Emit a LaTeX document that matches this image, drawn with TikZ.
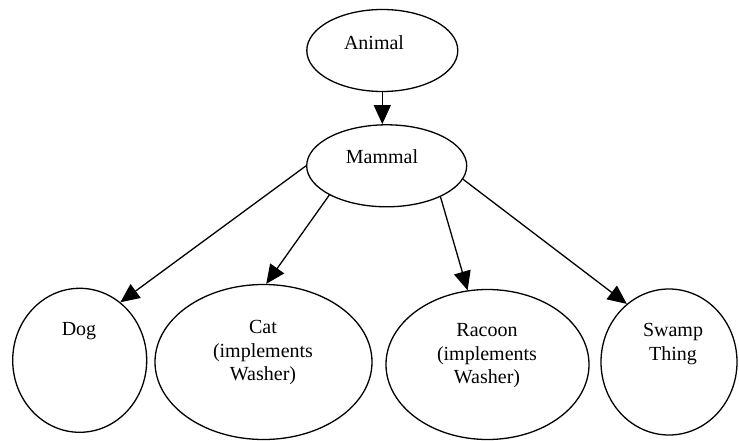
\documentclass[tikz,border=0pt]{standalone}
\usepackage{fontspec}
\setmainfont{Liberation Serif}
\usetikzlibrary{shapes.geometric,arrows.meta}
\tikzset{
  oval/.style={ellipse,draw=black,line width=1.3pt,inner sep=0pt},
  lbl/.style={align=center,inner sep=0pt,font=\fontsize{20}{23.5}\selectfont},
  edge/.style={line width=1.3pt,-{Triangle[length=19pt,width=17pt]}}
}
\begin{document}
\begin{tikzpicture}[x=1pt,y=-1pt]
\useasboundingbox (0,0) rectangle (739,441);
% ellipses
\node[oval,minimum width=151pt,minimum height=82pt] (animal) at (382.3,50.5) {};
\node[oval,minimum width=160pt,minimum height=82pt] (mammal) at (386.7,165.8) {};
\node[oval,minimum width=134pt,minimum height=144pt] (dog) at (79.7,360.3) {};
\node[oval,minimum width=217pt,minimum height=155pt] (cat) at (263.5,362) {};
\node[oval,minimum width=203pt,minimum height=150pt] (racoon) at (487.5,364.5) {};
\node[oval,minimum width=136pt,minimum height=146pt] (swamp) at (669,362) {};
% labels
\node[lbl] (animal-t) at (374,43) {Animal};
\node[lbl] (mammal-t) at (382,157) {Mammal};
\node[lbl] (dog-t) at (79,331) {Dog};
\node[lbl] (cat-t) at (263,353) {Cat\\(implements\\Washer)};
\node[lbl] (racoon-t) at (487,356) {Racoon\\(implements\\Washer)};
\node[lbl] (swamp-t) at (673,344) {Swamp\\Thing};
% connectors
\draw[edge] (animal.south) -- (animal.south |- mammal.north);
\draw[edge] (mammal.180) -- (dog.55);
\draw[edge] (mammal.207) -- (cat.88);
\draw[edge] (mammal.330) -- (racoon.105);
\draw[edge] (mammal.350) -- (swamp.126);
\end{tikzpicture}
\end{document}
